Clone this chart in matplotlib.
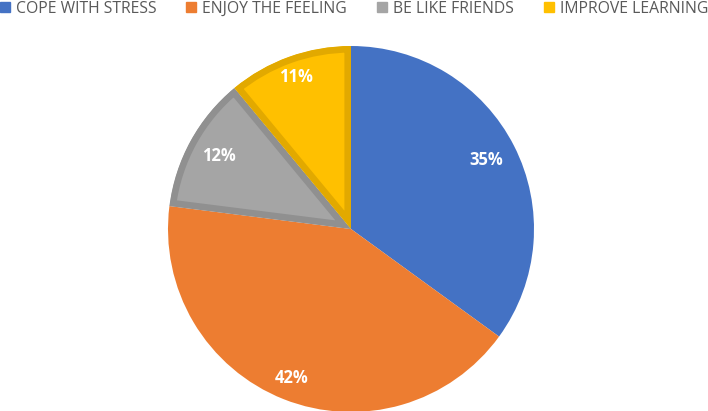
import numpy as np
import matplotlib.pyplot as plt

categorias = ["COPE WITH STRESS", "ENJOY THE FEELING", "BE LIKE FRIENDS", "IMPROVE LEARNING"]
valores = [35, 42, 12, 11]
colores = ["#4472c4", "#ed7d31", "#a5a5a5", "#ffc000"]
bordes = [None, None, "#909090", "#e2a900"]
etiquetas = ["35%", "42%", "12%", "11%"]

plt.rcParams['font.family'] = ['Open Sans', 'DejaVu Sans']

fig = plt.figure(figsize=(7.08, 4.11), dpi=100)
ax = fig.add_axes([168 / 708, -1 / 411, 366 / 708, 366 / 411])

wedges, _ = ax.pie(valores, colors=colores, startangle=90, counterclock=False,
                   radius=1, wedgeprops=dict(linewidth=0))

# borde interior grueso en gris y amarillo (recortado a la propia cuña)
for w, b in zip(wedges, bordes):
    if b is not None:
        w.set_edgecolor(b)
        w.set_linewidth(9.5)
        w.set_joinstyle('miter')
        w.set_clip_path(w)
        w.set_clip_on(True)

# etiquetas de porcentaje
dist = [0.83, 0.875, 0.825, 0.88]
for w, txt, d in zip(wedges, etiquetas, dist):
    ang = np.deg2rad((w.theta1 + w.theta2) / 2)
    ax.text(d * np.cos(ang), d * np.sin(ang), txt, ha='center', va='center',
            color='white', fontsize=12, fontweight='bold')

ax.set_xlim(-1, 1)
ax.set_ylim(-1, 1)
ax.set_aspect('equal')
ax.axis('off')

handles = [plt.Rectangle((0, 0), 1, 1, color=c) for c in colores]
fig.legend(handles, categorias, loc='upper left', bbox_to_anchor=(0.0, 0.998),
           ncol=4, frameon=False, fontsize=11.3, handlelength=0.64, handleheight=0.64,
           handletextpad=0.38, columnspacing=1.9, borderpad=0, borderaxespad=0,
           labelcolor='#595959')

fig.savefig("out.png", dpi=100)
